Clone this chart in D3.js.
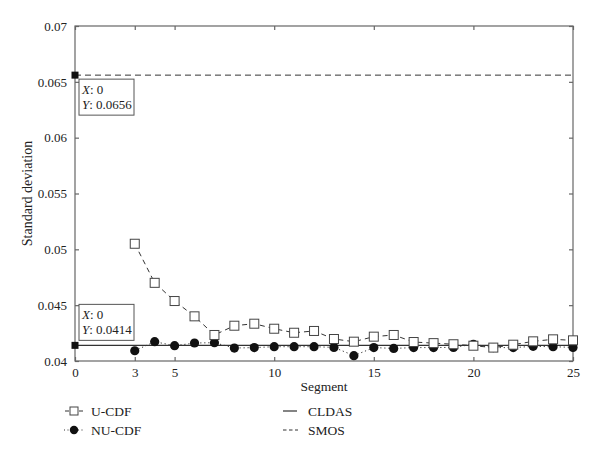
<!DOCTYPE html>
<html><head><meta charset="utf-8">
<script src="https://cdn.jsdelivr.net/npm/d3@7"></script>
<style>body{margin:0;background:#fff}svg{display:block}text{font-family:"Liberation Serif","DejaVu Serif",serif;fill:#222}</style>
</head><body>
<script>
const segments = [3,4,5,6,7,8,9,10,11,12,13,14,15,16,17,18,19,20,21,22,23,24,25];
const uCDF = [0.0505,0.0470,0.04537,0.0440,0.04233,0.04316,0.04334,0.04289,0.04253,0.04269,0.04197,0.04173,0.04218,0.04233,0.0417,0.0416,0.0415,0.04137,0.0412,0.04146,0.04176,0.04194,0.04185];
const nuCDF = [0.04092,0.04173,0.04137,0.04161,0.04164,0.04116,0.0412,0.04128,0.04128,0.04128,0.04122,0.04048,0.0412,0.04113,0.0412,0.0412,0.04122,0.0415,0.0412,0.0412,0.04131,0.04128,0.04122];
const cldas = 0.0414;
const smos = 0.0656;
const xTicks = [0,3,5,10,15,20,25];
const yTicks = [0.04,0.045,0.05,0.055,0.06,0.065,0.07];
const yTickLabels = ["0.04","0.045","0.05","0.055","0.06","0.065","0.07"];

const W=600,H=456;
const FF='"Liberation Serif","DejaVu Serif",serif';
const svg=d3.select("body").append("svg").attr("width",W).attr("height",H);
const x=d3.scaleLinear().domain([0,25]).range([75,573]);
const y=d3.scaleLinear().domain([0.04,0.07]).range([361,26]);
const axisColor="#666";

svg.append("rect").attr("x",x(0)).attr("y",y(0.07)).attr("width",x(25)-x(0)).attr("height",y(0.04)-y(0.07))
  .attr("fill","none").attr("stroke",axisColor).attr("stroke-width",1.2);

const fmt=d=>yTickLabels[yTicks.indexOf(d)];
const gB=svg.append("g").attr("transform",`translate(0,${y(0.04)})`).call(d3.axisBottom(x).tickValues(xTicks).tickSize(-4).tickPadding(7).tickFormat(d3.format("d")));
const gT=svg.append("g").attr("transform",`translate(0,${y(0.07)})`).call(d3.axisTop(x).tickValues(xTicks).tickSize(-4).tickFormat(""));
const gL=svg.append("g").attr("transform",`translate(${x(0)},0)`).call(d3.axisLeft(y).tickValues(yTicks).tickSize(-4).tickPadding(8).tickFormat(fmt));
const gR=svg.append("g").attr("transform",`translate(${x(25)},0)`).call(d3.axisRight(y).tickValues(yTicks).tickSize(-4).tickFormat(""));
[gB,gT,gL,gR].forEach(g=>{g.attr("font-family",FF);g.select(".domain").remove();g.selectAll("line").attr("stroke",axisColor).attr("stroke-width",1.2);g.selectAll("text").attr("font-family",FF).attr("font-size",13).attr("fill","#222");});

svg.append("text").attr("x",x(12.5)).attr("y",391).attr("text-anchor","middle").attr("font-family",FF).attr("font-size",13.5).text("Segment");
svg.append("text").attr("transform",`translate(32,${(y(0.04)+y(0.07))/2}) rotate(-90)`).attr("text-anchor","middle").attr("font-family",FF).attr("font-size",14).text("Standard deviation");

svg.append("line").attr("x1",x(0)).attr("x2",x(25)).attr("y1",y(smos)).attr("y2",y(smos)).attr("stroke","#333").attr("stroke-width",1).attr("stroke-dasharray","6,4");
svg.append("line").attr("x1",x(0)).attr("x2",x(25)).attr("y1",y(cldas)).attr("y2",y(cldas)).attr("stroke","#333").attr("stroke-width",1.2);

const uData=segments.map((s,i)=>[s,uCDF[i]]);
const nData=segments.map((s,i)=>[s,nuCDF[i]]);
const line=d3.line().x(d=>x(d[0])).y(d=>y(d[1]));
svg.append("path").attr("d",line(nData)).attr("fill","none").attr("stroke","#333").attr("stroke-width",1).attr("stroke-dasharray","1.2,2.8");
svg.append("path").attr("d",line(uData)).attr("fill","none").attr("stroke","#333").attr("stroke-width",1).attr("stroke-dasharray","5,4");
svg.selectAll(".nu").data(nData).enter().append("circle").attr("cx",d=>x(d[0])).attr("cy",d=>y(d[1])).attr("r",4.6).attr("fill","#111");
svg.selectAll(".u").data(uData).enter().append("rect").attr("x",d=>x(d[0])-4.5).attr("y",d=>y(d[1])-4.5).attr("width",9).attr("height",9).attr("fill","#fff").attr("stroke","#444").attr("stroke-width",1);

[[smos,"0.0656"],[cldas,"0.0414"]].forEach(([v,lab],i)=>{
  svg.append("rect").attr("x",x(0)-3.5).attr("y",y(v)-3.5).attr("width",7).attr("height",7).attr("fill","#111");
  const by = i===0 ? y(v)+4 : y(v)-41;
  svg.append("rect").attr("x",x(0)+4).attr("y",by).attr("width",55).attr("height",36).attr("fill","#fff").attr("stroke","#555").attr("stroke-width",1);
  const t1=svg.append("text").attr("x",x(0)+7).attr("y",by+15).attr("font-family",FF).attr("font-size",13);
  t1.append("tspan").attr("font-style","italic").text("X");t1.append("tspan").text(": 0");
  const t2=svg.append("text").attr("x",x(0)+7).attr("y",by+30).attr("font-family",FF).attr("font-size",13);
  t2.append("tspan").attr("font-style","italic").text("Y");t2.append("tspan").text(": "+lab);
});

const lg=svg.append("g").attr("font-family",FF).attr("font-size",13.5);
lg.append("line").attr("x1",65).attr("x2",83).attr("y1",411).attr("y2",411).attr("stroke","#333").attr("stroke-dasharray","4,3");
lg.append("rect").attr("x",70).attr("y",407).attr("width",8).attr("height",8).attr("fill","#fff").attr("stroke","#444");
lg.append("text").attr("x",91).attr("y",416).text("U-CDF");
lg.append("line").attr("x1",64).attr("x2",84).attr("y1",430).attr("y2",430).attr("stroke","#333").attr("stroke-dasharray","1,2.5");
lg.append("circle").attr("cx",74).attr("cy",430).attr("r",4.2).attr("fill","#111");
lg.append("text").attr("x",91).attr("y",435).text("NU-CDF");
lg.append("line").attr("x1",283).attr("x2",297).attr("y1",411).attr("y2",411).attr("stroke","#333").attr("stroke-width",1.2);
lg.append("text").attr("x",308).attr("y",416).text("CLDAS");
lg.append("line").attr("x1",283).attr("x2",298).attr("y1",430).attr("y2",430).attr("stroke","#333").attr("stroke-dasharray","3.5,2.5");
lg.append("text").attr("x",308).attr("y",435).text("SMOS");
</script>
</body></html>
